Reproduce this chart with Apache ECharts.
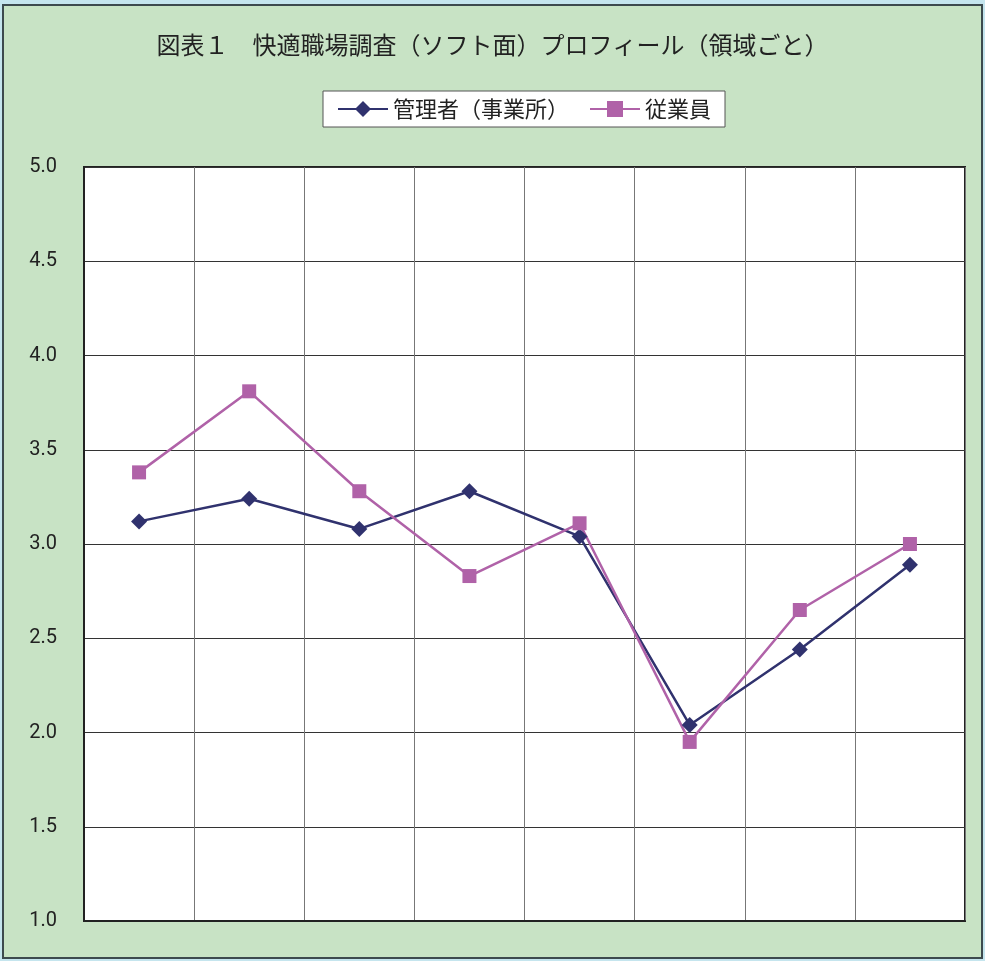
<!DOCTYPE html>
<html>
<head>
<meta charset="utf-8">
<script src="https://cdn.jsdelivr.net/npm/echarts@6/dist/echarts.min.js"></script>
<style>
  html, body { margin: 0; padding: 0; background: #c5e5ee; }
  #chart { width: 985px; height: 961px; }
</style>
</head>
<body>
<div id="chart"></div>
<script>
// 領域（軸ラベルは非表示）
const domains = ['領域1', '領域2', '領域3', '領域4', '領域5', '領域6', '領域7', '領域8']
// 管理者（事業所）
const managerScores = [3.12, 3.24, 3.08, 3.28, 3.04, 2.04, 2.44, 2.89]
// 従業員
const employeeScores = [3.38, 3.81, 3.28, 2.83, 3.11, 1.95, 2.65, 3.00]
const seriesNames = ['管理者（事業所）', '従業員']

const chart = echarts.init(document.getElementById('chart'))

const option = {
  backgroundColor: '#c5e5ee',
  animation: false,
  textStyle: { fontFamily: '"Noto Sans CJK JP", sans-serif' },
  // 外枠（緑の背景）
  graphic: [
    {
      type: 'rect',
      z: -10,
      shape: { x: 3, y: 5, width: 979, height: 953 },
      style: { fill: '#c8e3c5', stroke: '#3d4a4e', lineWidth: 2 }
    }
  ],
  title: {
    text: '図表１　快適職場調査（ソフト面）プロフィール（領域ごと）',
    left: 'center',
    top: 28,
    textStyle: { fontSize: 24, fontWeight: 'normal', color: '#222' }
  },
  legend: {
    data: seriesNames,
    left: 323,
    top: 91,
    backgroundColor: '#fff',
    borderColor: '#555',
    borderWidth: 1,
    padding: [7, 14],
    itemWidth: 50,
    itemHeight: 20,
    itemGap: 20,
    textStyle: { fontSize: 22, color: '#222' }
  },
  grid: {
    left: 84,
    top: 167,
    width: 881,
    height: 754,
    show: true,
    backgroundColor: '#fff',
    borderColor: '#222',
    borderWidth: 2
  },
  xAxis: {
    type: 'category',
    data: domains,
    boundaryGap: true,
    axisLabel: { show: false },
    axisTick: { show: false },
    axisLine: { show: true, lineStyle: { color: '#222', width: 2 } },
    splitLine: { show: true, lineStyle: { color: '#777', width: 1 } }
  },
  yAxis: {
    type: 'value',
    min: 1,
    max: 5,
    interval: 0.5,
    axisLine: { show: true, lineStyle: { color: '#222', width: 2 } },
    axisTick: { show: false },
    axisLabel: {
      fontSize: 20,
      color: '#222',
      margin: 27,
      fontFamily: 'Roboto, sans-serif',
      formatter: v => v.toFixed(1)
    },
    splitLine: { show: true, lineStyle: { color: '#333', width: 1 } }
  },
  series: [
    {
      name: seriesNames[0],
      type: 'line',
      data: managerScores,
      symbol: 'diamond',
      symbolSize: 16,
      itemStyle: { color: '#30326e' },
      lineStyle: { color: '#30326e', width: 2.5 }
    },
    {
      name: seriesNames[1],
      type: 'line',
      data: employeeScores,
      symbol: 'rect',
      symbolSize: 14,
      itemStyle: { color: '#b062a8' },
      lineStyle: { color: '#b062a8', width: 2.5 }
    }
  ]
}

chart.setOption(option)
</script>
</body>
</html>
